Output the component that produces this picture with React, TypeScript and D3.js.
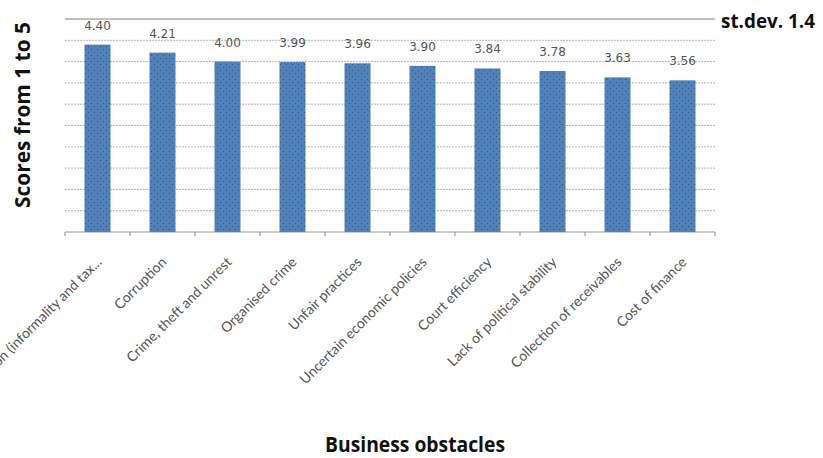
import React from "react";
import * as d3 from "d3";

const categories = [
  "Competition (informality and tax...",
  "Corruption",
  "Crime, theft and unrest",
  "Organised crime",
  "Unfair practices",
  "Uncertain economic policies",
  "Court efficiency",
  "Lack of political stability",
  "Collection of receivables",
  "Cost of finance",
];
const values = [4.4, 4.21, 4.0, 3.99, 3.96, 3.9, 3.84, 3.78, 3.63, 3.56];
const valueLabels = ["4.40", "4.21", "4.00", "3.99", "3.96", "3.90", "3.84", "3.78", "3.63", "3.56"];
const gridTicks = [0, 0.5, 1, 1.5, 2, 2.5, 3, 3.5, 4, 4.5, 5];

const W = 823;
const H = 458;
const left = 65;
const right = 715;
const top = 19;
const bottom = 232;

export default function App() {
  const x = d3.scaleBand<string>().domain(categories).range([left, right]).paddingInner(0.6).paddingOuter(0.3);
  const xb = d3.scaleBand<string>().domain(categories).range([left, right]);
  const y = d3.scaleLinear().domain([0, 5]).range([bottom, top]);
  const titleFont = "'Open Sans', 'DejaVu Sans', sans-serif";
  const catFont = "Lato, 'Open Sans', sans-serif";
  return (
    <svg width={W} height={H} style={{ position: "absolute", left: 0, top: 0, background: "#fff" }}>
      <defs>
        <pattern id="dots" width="6" height="6" patternUnits="userSpaceOnUse">
          <rect width="6" height="6" fill="#4f81bd" />
          <circle cx="1.5" cy="1.5" r="0.6" fill="#3a4a5e" />
          <circle cx="4.5" cy="4.5" r="0.6" fill="#3a4a5e" />
        </pattern>
      </defs>
      {gridTicks.map((t, i) => (
        <line
          key={i}
          x1={left}
          x2={right}
          y1={y(t)}
          y2={y(t)}
          stroke={i === gridTicks.length - 1 ? "#808080" : i === 0 ? "#9a9a9a" : "#b4b4b4"}
          strokeWidth={1}
          strokeDasharray={i === 0 || i === gridTicks.length - 1 ? undefined : "2,1"}
        />
      ))}
      {categories.map((c, i) => (
        <g key={c}>
          <rect x={x(c)} y={y(values[i])} width={x.bandwidth()} height={bottom - y(values[i])} fill="url(#dots)" />
          <text
            x={(x(c) as number) + x.bandwidth() / 2}
            y={y(values[i]) - 15}
            textAnchor="middle"
            fontFamily="'DejaVu Sans', sans-serif"
            fontSize={12}
            fill="#555"
          >
            {valueLabels[i]}
          </text>
        </g>
      ))}
      {categories.concat([""]).map((c, i) => {
        const xx = left + i * xb.step();
        return <line key={"t" + i} x1={xx} x2={xx} y1={bottom} y2={bottom + 4} stroke="#8a8a8a" />;
      })}
      {categories.map((c) => {
        const cx = (xb(c) as number) + xb.bandwidth() / 2 + 5;
        const cy = bottom + 31;
        return (
          <text
            key={"l" + c}
            transform={`translate(${cx},${cy}) rotate(-45)`}
            textAnchor="end"
            fontFamily={catFont}
            fontSize={14}
            fill="#555"
          >
            {c}
          </text>
        );
      })}
      <text
        transform={`translate(30,${115}) rotate(-90)`}
        textAnchor="middle"
        fontFamily={titleFont}
        fontWeight="bold"
        fontSize={21}
        textLength={186}
        lengthAdjust="spacingAndGlyphs"
        fill="#111"
      >
        Scores from 1 to 5
      </text>
      <text
        x={721}
        y={28}
        fontFamily={titleFont}
        fontWeight="bold"
        fontSize={20}
        textLength={94}
        lengthAdjust="spacingAndGlyphs"
        fill="#111"
      >
        st.dev. 1.4
      </text>
      <text
        x={325}
        y={452}
        fontFamily={titleFont}
        fontWeight="bold"
        fontSize={22}
        textLength={180}
        lengthAdjust="spacingAndGlyphs"
        fill="#111"
      >
        Business obstacles
      </text>
    </svg>
  );
}
